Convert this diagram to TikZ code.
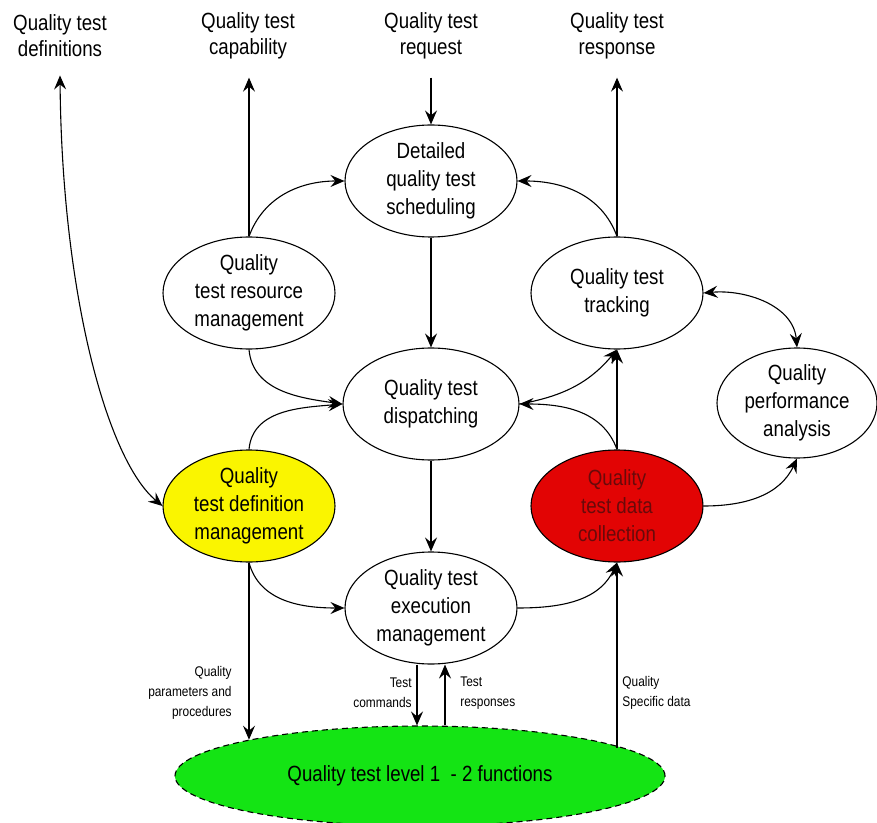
\documentclass[tikz,border=0pt]{standalone}
\usepackage{fontspec}
\setmainfont{Liberation Sans}[FakeStretch=0.85]
\usetikzlibrary{shapes.geometric,arrows.meta}

\definecolor{qyellow}{RGB}{250,245,0}
\definecolor{qred}{RGB}{226,4,4}
\definecolor{qdarkred}{RGB}{105,10,10}
\definecolor{qgreen}{RGB}{20,228,20}

\tikzset{
	proc/.style={draw, ellipse, line width=0.55pt, minimum width=86pt, minimum height=56pt, inner sep=-3pt, align=center, font=\fontsize{11}{14}\selectfont},
	extlabel/.style={align=center, inner ysep=9pt, font=\fontsize{11}{13}\selectfont},
	flowlabel/.style={inner sep=0pt, font=\fontsize{7}{10}\selectfont},
	flow/.style={line width=0.55pt, ->},
}

\begin{document}
\begin{tikzpicture}[x=0.5pt, y=-0.5pt, >={Stealth[length=7pt,width=6pt,inset=2.5pt]}]
	\useasboundingbox (0,0) rectangle (877,823);

	% external labels
	\node[extlabel] (defs) at (60,36) {Quality test\\definitions};
	\node[extlabel] (cap) at (248,36) {Quality test\\capability};
	\node[extlabel] (req) at (431,36) {Quality test\\request};
	\node[extlabel] (resp) at (617,36) {Quality test\\response};

	% functions
	\node[proc] (sched) at (431,181) {Detailed\\quality test\\scheduling};
	\node[proc] (res) at (249,293) {Quality\\test resource\\management};
	\node[proc] (track) at (617,293) {Quality test\\tracking};
	\node[proc, minimum width=88pt] (disp) at (431,404) {Quality test\\dispatching};
	\node[proc, minimum width=80pt, minimum height=55pt] (perf) at (797,403) {Quality\\performance\\analysis};
	\node[proc, fill=qyellow] (defm) at (249,506) {Quality\\test definition\\management};
	\node[proc, fill=qred, text=qdarkred] (coll) at (617,506) {Quality\\test data\\collection};
	\node[proc] (exec) at (431,608) {Quality test\\execution\\management};
	\node[proc, fill=qgreen, densely dashed, minimum width=245pt, minimum height=50pt] (lvl) at (420,776) {Quality test level 1 ~- 2 functions};

	% flows
	\draw[flow] (req.south) -- (sched.north);
	\draw[flow] (sched.south) -- (disp.north);
	\draw[flow] (disp.south) -- (exec.north);
	\draw[flow] (res.north) -- (res.north |- cap.south);
	\draw[flow] (res.north) to[out=70,in=180] (sched.west);
	\draw[flow] (res.south) to[out=-85,in=172] (disp.west);
	\draw[flow] (defm.north) to[out=85,in=185] (disp.west);
	\draw[flow] (defm.south) to[out=-75,in=180] (exec.west);
	\draw[flow,<->] (defs.south) .. controls +(2,220) and +(-55,-46) .. (defm.west);
	\draw[flow] (track.north) -- (track.north |- resp.south);
	\draw[flow] (track.north) to[out=110,in=0] (sched.east);
	\draw[flow] (coll.north) -- (track.south);
	\draw[flow] (coll.north) to[out=110,in=0] (disp.east);
	\draw[flow] (disp.east) to[out=10,in=-130] (track.south);
	\draw[flow,<->] (track.east) to[out=5,in=95] (perf.north);
	\draw[flow] (coll.east) to[out=0,in=-115] (perf.south);
	\draw[flow] (exec.east) to[out=0,in=-115] (coll.south);

	% level 1 - 2 interfaces
	\coordinate (cmd) at ([xshift=-7pt]exec.south);
	\coordinate (rsp) at ([xshift=7pt]exec.south);
	\draw[flow] (defm.south) -- (defm.south |- lvl.168);
	\draw[flow] (cmd) -- (cmd |- lvl.north);
	\draw[flow] (rsp |- lvl.north) -- (rsp);
	\draw[flow] (coll.south |- lvl.8) -- (coll.south);
	\node[flowlabel, align=right, anchor=east] (parlbl) at (232,693) {Quality\\parameters and\\procedures};
	\node[flowlabel, align=right, anchor=east] (cmdlbl) at (412,693) {Test\\commands};
	\node[flowlabel, align=left, anchor=west] (rsplbl) at (460,693) {Test\\responses};
	\node[flowlabel, align=left, anchor=west] (datlbl) at (622,693) {Quality\\Specific data};
\end{tikzpicture}
\end{document}
